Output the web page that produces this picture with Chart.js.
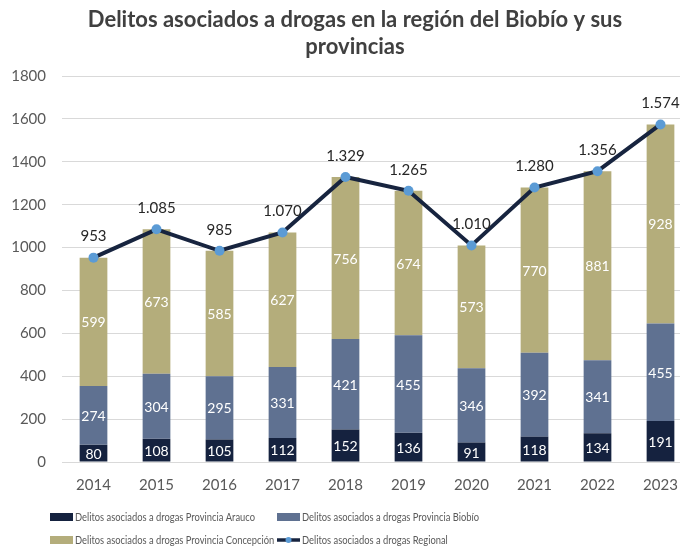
<!DOCTYPE html>
<html>
<head>
<meta charset="utf-8">
<script src="https://cdn.jsdelivr.net/npm/chart.js@4.4.1/dist/chart.umd.min.js"></script>
<style>
    html, body { margin: 0; padding: 0; background: #ffffff; overflow: hidden; }
    #wrap { position: relative; width: 700px; height: 548px; }
</style>
</head>
<body>
<div id="wrap"><canvas id="delitos"></canvas></div>
<script>
// Data
const years = ['2014', '2015', '2016', '2017', '2018', '2019', '2020', '2021', '2022', '2023'];
const arauco = [80, 108, 105, 112, 152, 136, 91, 118, 134, 191];
const biobio = [274, 304, 295, 331, 421, 455, 346, 392, 341, 455];
const concepcion = [599, 673, 585, 627, 756, 674, 573, 770, 881, 928];
const regional = [953, 1085, 985, 1070, 1329, 1265, 1010, 1280, 1356, 1574];
const yTicks = [0, 200, 400, 600, 800, 1000, 1200, 1400, 1600, 1800];

const titleLines = ['Delitos asociados a drogas en la región del Biobío y sus', 'provincias'];
const seriesNames = [
    'Delitos asociados a drogas Provincia Arauco',
    'Delitos asociados a drogas Provincia Biobío',
    'Delitos asociados a drogas Provincia Concepción',
    'Delitos asociados a drogas Regional'
];

const Colors = {
    arauco: '#15223f',
    biobio: '#5f7191',
    concepcion: '#b4ad7b',
    line: '#17243f',
    point: '#5b9bd5',
    grid: '#d9d9d9',
    text: '#595959',
    title: '#404040'
};

const FONT = 'Lato, "Open Sans", sans-serif';

// thousands with a dot, like the source ("1.329")
function fmt(v) {
    return String(v).replace(/\B(?=(\d{3})+(?!\d))/g, '.');
}

// Title drawn by hand: the source centres it a bit right of the canvas middle
const titlePlugin = {
    id: 'titlePlugin',
    afterDraw(chart) {
        const ctx = chart.ctx;
        ctx.save();
        ctx.font = 'bold 22px ' + FONT;
        ctx.fillStyle = Colors.title;
        ctx.textAlign = 'center';
        ctx.textBaseline = 'middle';
        titleLines.forEach((line, i) => ctx.fillText(line, 355, 20 + i * 27));
        ctx.restore();
    }
};

// Value labels: white inside bar segments, dark above line points
const valueLabels = {
    id: 'valueLabels',
    afterDatasetsDraw(chart) {
        const ctx = chart.ctx;
        ctx.save();
        ctx.textAlign = 'center';
        ctx.textBaseline = 'middle';
        chart.data.datasets.forEach((ds, i) => {
            const meta = chart.getDatasetMeta(i);
            if (meta.hidden) return;
            meta.data.forEach((el, j) => {
                if (ds.type === 'line') {
                    ctx.fillStyle = '#262626';
                    ctx.font = '15px ' + FONT;
                    ctx.fillText(fmt(ds.data[j]), el.x, el.y - 21);
                } else {
                    const mid = (el.y + el.base) / 2;
                    ctx.fillStyle = '#ffffff';
                    ctx.font = '14px ' + FONT;
                    ctx.fillText(fmt(ds.data[j]), el.x, mid + 1);
                }
            });
        });
        ctx.restore();
    }
};

// Two-column legend under the axis, as in the source (text squeezed like Calibri)
const gridLegend = {
    id: 'gridLegend',
    afterDraw(chart) {
        const ctx = chart.ctx;
        const cols = [50, 277];
        const rows = [517, 540];
        ctx.save();
        ctx.font = '12px ' + FONT;
        ctx.textBaseline = 'middle';
        ctx.textAlign = 'left';
        // "…Provincia Arauco" spans about 180px in the source
        const squeeze = 180 / ctx.measureText(seriesNames[0]).width;
        chart.data.datasets.forEach((ds, i) => {
            const x = cols[i % 2];
            const y = rows[Math.floor(i / 2)];
            if (ds.type === 'line') {
                ctx.strokeStyle = ds.borderColor;
                ctx.lineWidth = 3.5;
                ctx.beginPath();
                ctx.moveTo(x, y);
                ctx.lineTo(x + 23, y);
                ctx.stroke();
                ctx.fillStyle = ds.pointBackgroundColor;
                ctx.beginPath();
                ctx.arc(x + 11.5, y, 3, 0, Math.PI * 2);
                ctx.fill();
            } else {
                ctx.fillStyle = ds.backgroundColor;
                ctx.fillRect(x, y - 4, 23, 8);
            }
            ctx.save();
            ctx.translate(x + 25, y);
            ctx.scale(squeeze, 1);
            ctx.fillStyle = Colors.text;
            ctx.fillText(ds.label, 0, 0);
            ctx.restore();
        });
        ctx.restore();
    }
};

const barBase = {
    type: 'bar',
    stack: 'provincias',
    order: 1,
    borderWidth: 0,
    categoryPercentage: 1,
    barPercentage: 0.44
};

new Chart(document.getElementById('delitos'), {
    data: {
        labels: years,
        datasets: [
            { ...barBase, label: seriesNames[0], data: arauco, backgroundColor: Colors.arauco },
            { ...barBase, label: seriesNames[1], data: biobio, backgroundColor: Colors.biobio },
            { ...barBase, label: seriesNames[2], data: concepcion, backgroundColor: Colors.concepcion },
            {
                type: 'line',
                label: seriesNames[3],
                data: regional,
                stack: 'regional',
                order: 0,
                borderColor: Colors.line,
                borderWidth: 4,
                tension: 0,
                pointRadius: 5,
                pointBorderWidth: 0,
                pointBackgroundColor: Colors.point,
                pointBorderColor: Colors.point
            }
        ]
    },
    options: {
        responsive: true,
        maintainAspectRatio: false,
        animation: false,
        layout: { padding: { left: 0, right: 8, top: 76, bottom: 46 } },
        plugins: {
            legend: { display: false },
            tooltip: { enabled: false },
            title: { display: false }
        },
        scales: {
            x: {
                stacked: true,
                grid: { display: false, drawTicks: false },
                border: { display: false },
                ticks: { color: Colors.text, font: { family: FONT, size: 15 }, padding: 14 },
                afterFit(scale) { scale.height = 40; }
            },
            y: {
                stacked: true,
                min: 0,
                max: 1800,
                afterBuildTicks(scale) { scale.ticks = yTicks.map(v => ({ value: v })); },
                grid: { color: Colors.grid, lineWidth: 1, drawTicks: false },
                border: { display: false },
                ticks: {
                    color: Colors.text,
                    font: { family: FONT, size: 15 },
                    padding: 16,
                    callback: v => String(v)
                },
                afterFit(scale) { scale.width = 62; }
            }
        }
    },
    plugins: [titlePlugin, valueLabels, gridLegend]
});
</script>
</body>
</html>
